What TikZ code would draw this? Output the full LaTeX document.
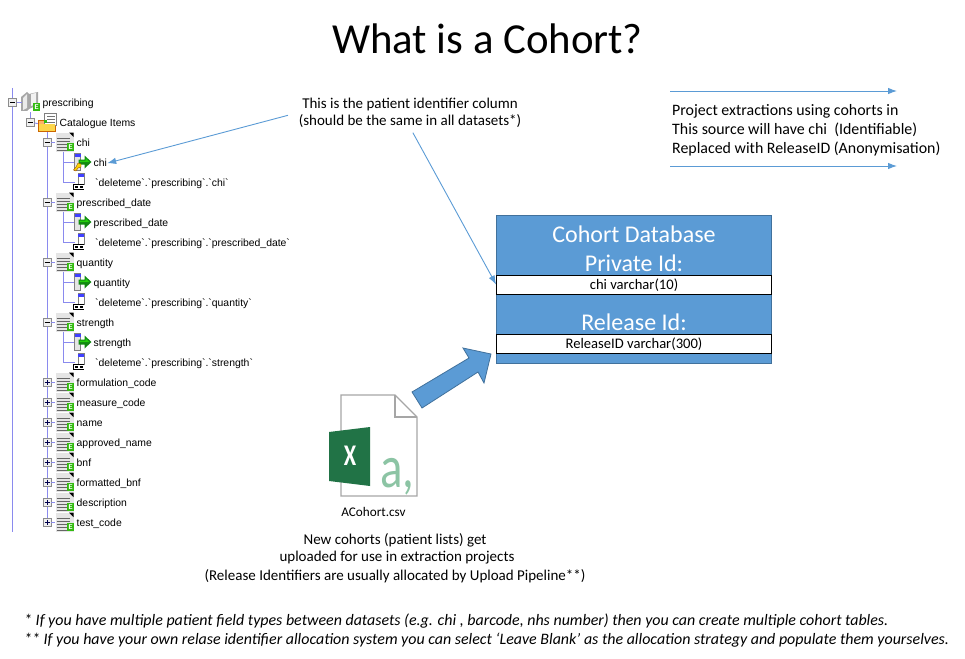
\documentclass[tikz,border=0pt]{standalone}
\usepackage{fontspec}
\setmainfont{Carlito}
\newfontfamily\treefont{Liberation Sans}
\usetikzlibrary{positioning,arrows.meta,calc}
\definecolor{BoxBlue}{HTML}{5B9BD5}
\definecolor{BoxEdge}{HTML}{41719C}
\definecolor{TreeLine}{HTML}{8A8AEE}
\definecolor{IconGreen}{HTML}{33BB11}
\definecolor{ArrowGreen}{HTML}{118811}
\definecolor{XlGreen}{HTML}{217346}
\definecolor{XlSoft}{HTML}{8CC4A4}
\newcommand{\fs}[1]{\fontsize{#1}{#1}\selectfont}
\tikzset{
  treeline/.style={TreeLine,line width=0.9pt},
  bluearrow/.style={-{Latex[length=9pt,width=6.5pt]},BoxBlue,line width=0.9pt},
  treetext/.style={font=\treefont\fs{10.4},inner sep=0pt,anchor=west,text height=8pt,text depth=2pt,yshift=-1.2pt},
  expander/.style={draw=black!45,fill=black!6,line width=0.8pt,minimum size=8pt,inner sep=0pt},
  expminus/.style={expander,path picture={\draw[black,line width=0.6pt] ($(path picture bounding box.center)+(-2.5,0)$) -- ($(path picture bounding box.center)+(2.5,0)$);}},
  expplus/.style={expander,path picture={\draw[black!70!blue,line width=0.6pt] ($(path picture bounding box.center)+(-2.5,0)$) -- ($(path picture bounding box.center)+(2.5,0)$) ($(path picture bounding box.center)+(0,-2.5)$) -- ($(path picture bounding box.center)+(0,2.5)$);}},
  greene/.style={fill=IconGreen,text=white,font=\sffamily\bfseries\fs{7},inner sep=0pt,minimum width=7.5pt,minimum height=8.5pt},
  whiterow/.style={draw=black,fill=white,line width=0.8pt,minimum width=275pt,minimum height=19pt,inner sep=0pt,text height=10pt,text depth=0.5pt,font=\fs{14.6}},
  dbtext/.style={text=white,inner sep=0pt,font=\fs{24}},
  note/.style={inner sep=0pt,font=\fs{15},yshift=-1pt},
  projnote/.style={inner sep=0pt,anchor=west,font=\fs{15.9},yshift=-1pt},
  footnote/.style={inner sep=0pt,anchor=west,font=\itshape\fs{15.95},yshift=-1pt},
  pics/docicon/.style={code={
    \node[fill=black!10,minimum width=18pt,minimum height=19pt,inner sep=0pt] (-body) at (0,0) {};
    \foreach \ly in {-4,-1,2,5,8}{\draw[black!60,line width=0.8pt] (-8,\ly) -- (5,\ly);}
    \fill[black] (4.5,-9.5) -- (9,-9.5) -- (9,-5) -- cycle;
    \node[greene] at (6,5) {E};
  }},
  pics/fieldicon/.style={code={
    \node[draw=black!50,fill=black!10,line width=0.6pt,minimum width=6.5pt,minimum height=17pt,inner sep=0pt] (-body) at (0,0) {};
    \fill[blue!75] (-3,-8.5) rectangle (3,-5);
    \fill[ArrowGreen] (1,-2.5) -- (7,-2.5) -- (7,-6.5) -- (14,0) -- (7,6.5) -- (7,2.5) -- (1,2.5) -- cycle;
    \fill[IconGreen!70!green] (2,-1.5) -- (8,-1.5) -- (8,-4) -- (12,0) -- (8,0) -- (2,0) -- cycle;
  }},
  pics/linkicon/.style={code={
    \node[draw=black!50,fill=white,line width=0.6pt,minimum width=6pt,minimum height=11pt,inner sep=0pt] (-body) at (0,0) {};
    \fill[blue!75] (-3,-5.5) rectangle (3,-2.5);
    \fill[black] (-8,5) rectangle (3,11);
    \draw[white,line width=0.6pt] (-6.5,6.7) rectangle (-3,9.3) (-1.5,6.7) rectangle (2,9.3);
  }},
  pics/bookicon/.style={code={
    \node[minimum width=18pt,minimum height=19pt,inner sep=0pt] (-body) at (0,-1) {};
    \fill[black!35] (-10,-6) -- (-4,-11) -- (-2,-9) -- (-2,6) -- (-4,8) -- (-10,8) -- cycle;
    \fill[black!8] (-8,-5) -- (-4,-9) -- (-4,5) -- (-8,7) -- cycle;
    \fill[black!35] (-2,-9) -- (7,-11) -- (7,2) -- (-2,6) -- cycle;
    \fill[black!5] (0,-9) -- (5,-10) -- (5,1) -- (0,3) -- cycle;
    \node[greene] at (5.5,4) {E};
  }},
  pics/foldericon/.style={code={
    \node[fill=orange!60,draw=orange!80!black,line width=0.5pt,minimum width=17pt,minimum height=11pt,inner sep=0pt] (-body) at (-0.5,3.5) {};
    \fill[white,draw=black!50,line width=0.4pt] (-3,-9) rectangle (9,3);
    \foreach \ly in {-6,-3,0}{\draw[black!55,line width=0.6pt] (0,\ly) -- (8,\ly);}
    \fill[yellow!60!orange!70] (-8.5,2) rectangle (7.5,8.5);
    \fill[IconGreen] (-3,-2) rectangle (0,1);
  }}
}
\begin{document}
\begin{tikzpicture}[x=1pt,y=-1pt]
\useasboundingbox (0,0) rectangle (965,658);
\node[inner sep=0pt,font=\fs{42.8}] (title) at (487.5,39) {What is a Cohort?};

\coordinate (treetopA) at (12,88);
\coordinate (treeendA) at (12,532);
\coordinate (treetopB) at (47,131);
\coordinate (treeendB) at (47,522);
\draw[treeline] (treetopA) -- (treeendA);
\draw[treeline] (treetopB) -- (treeendB);
\node[expminus] (expRoot) at (12.5,102) {};
\pic (iconRoot) at (31,103) {bookicon};
\node[treetext] (prescribing) at (42.5,102) {prescribing};
\node[expminus] (expItems) at (30,122) {};
\pic (iconItems) at (47,122) {foldericon};
\node[treetext] (items) at (59.5,122) {Catalogue Items};
\draw[treeline] (expItems) -- (expItems |- iconRoot-body.south);
\draw[treeline] (expRoot) -- (iconRoot-body);
\draw[treeline] (expItems) -- (iconItems-body);

\foreach \nm/\lbl/\yy in {chi/chi/142,date/prescribed\_date/202,qty/quantity/262,str/strength/322}{
  \node[expminus] (exp\nm) at (47,\yy) {};
  \pic (icon\nm) at (64.5,\yy) {docicon};
  \node[treetext] (name\nm) at (76.5,\yy) {\lbl};
  \draw[treeline] (exp\nm) -- (icon\nm-body);
  \pic (field\nm) at (77.5,\yy+20) {fieldicon};
  \node[treetext] (col\nm) at (93.5,\yy+20) {\lbl};
  \pic (link\nm) at (81,\yy+37) {linkicon};
  \node[treetext] (sql\nm) at (95,\yy+40) {`deleteme`.`prescribing`.`\lbl`};
  \draw[treeline] ($(icon\nm-body.south)+(-1.5,0)$) |- (field\nm-body.west);
  \draw[treeline] ($(icon\nm-body.south)+(-1.5,0)$) |- ($(link\nm-body.west)+(-3,3)$);
}
\foreach \nm/\lbl/\yy in {form/formulation\_code/382,meas/measure\_code/402,nam/name/422,appr/approved\_name/442,bnf/bnf/462,fbnf/formatted\_bnf/482,desc/description/502,test/test\_code/522}{
  \node[expplus] (exp\nm) at (47,\yy) {};
  \pic (icon\nm) at (64.5,\yy) {docicon};
  \node[treetext] (name\nm) at (76.5,\yy) {\lbl};
  \draw[treeline] (exp\nm) -- (icon\nm-body);
}
\fill[yellow!70!orange,draw=orange!60!black,line width=0.4pt] (73.5,170) -- (76,167) -- (78,163) -- (81,164) -- (81,167) -- (78,168) -- (76,171) -- cycle;

\node[note,align=center,yshift=1pt] (patient) at (410,112.5) {This is the patient identifier column\\[2pt](should be the same in all datasets*)};
\draw[bluearrow,shorten <=11pt] (patient.west) -- (colchi.east);

\node[projnote] (projA) at (672,110.5) {Project extractions using cohorts in};
\node[projnote] (projB) at (672,129) {This source will have chi\ \ (Identifiable)};
\node[projnote] (projC) at (672,148) {Replaced with ReleaseID (Anonymisation)};
\coordinate (ruleAs) at (670,91);
\coordinate (ruleAe) at (897,91);
\coordinate (ruleBs) at (670,166);
\coordinate (ruleBe) at (897,166);
\draw[bluearrow] (ruleAs) -- (ruleAe);
\draw[bluearrow] (ruleBs) -- (ruleBe);

\node[draw=BoxEdge,fill=BoxBlue,line width=0.8pt,minimum width=275pt,minimum height=148pt,inner sep=0pt] (cohortdb) at (634,289) {};
\node[dbtext] (dbname) at (634,234) {Cohort Database};
\node[dbtext] (privateid) at (634,263.5) {Private Id:};
\node[whiterow] (chirow) at (634,284.5) {chi varchar(10)};
\node[dbtext] (releaseid) at (634,322) {Release Id:};
\node[whiterow] (releaserow) at (634,343.5) {ReleaseID varchar(300)};
\draw[bluearrow,shorten <=6pt] (patient.south) -- (chirow.west);

\fill[BoxBlue,draw=BoxEdge,line width=0.8pt] (412,392) -- (469,358) -- (463,348) -- (491,354) -- (484,383) -- (478,372) -- (422,408) -- cycle;

\draw[black!35,line width=1.3pt,fill=white] (341,395) -- (395,395) -- (417,417) -- (417,496) -- (341,496) -- cycle;
\draw[black!35,line width=1.3pt] (395,395) -- (395,417) -- (417,417);
\fill[XlGreen] (329,432) -- (370,427) -- (370,486) -- (329,481) -- cycle;
\node[text=white,inner sep=0pt,font=\bfseries\fs{30}] (xmark) at (350,456) {\scalebox{.75}[1]{X}};
\node[text=XlSoft,inner sep=0pt,anchor=base west,font=\fs{60}] (amark) at (380,487) {\scalebox{.78}[1]{a,}};
\node[inner sep=0pt,font=\fs{13.2}] (csvname) at (373.5,512) {ACohort.csv};

\node[note] (upA) at (395,539) {New cohorts (patient lists) get};
\node[note] (upB) at (397,556.5) {uploaded for use in extraction projects};
\node[note] (upC) at (395,575) {(Release Identifiers are usually allocated by Upload Pipeline**)};

\node[footnote] (footA) at (24,620) {* If you have multiple patient field types between datasets (e.g. chi , barcode, nhs number) then you can create multiple cohort tables.};
\node[footnote] (footB) at (24,639) {** If you have your own relase identifier allocation system you can select ‘Leave Blank’ as the allocation strategy and populate them yourselves.};
\end{tikzpicture}
\end{document}
